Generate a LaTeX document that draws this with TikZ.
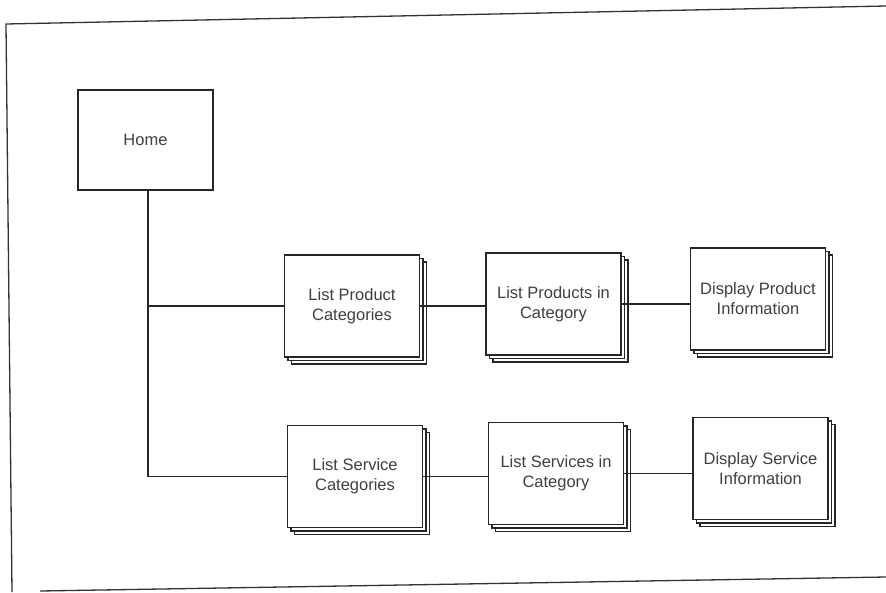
\documentclass[tikz,border=0pt]{standalone}
\usepackage{fontspec}
\setmainfont{Liberation Sans}
\usetikzlibrary{shadows}
\begin{document}
\begin{tikzpicture}[x=1pt,y=-1pt,
  frameline/.style={draw=black!80,line width=1.3pt},
  link/.style={draw=black!85,line width=1.1pt},
  screen/.style={draw=black!85,line width=1.1pt,fill=white,
    minimum width=135pt,minimum height=100pt,align=center,
    text=black!75,font=\fontsize{16.5}{20}\selectfont},
  stack/.style={screen,minimum height=102pt,
    double copy shadow={shadow xshift=3.5pt,shadow yshift=-3.5pt}}]
\useasboundingbox (0,0) rectangle (886,592);
% page frame (slightly skewed scan)
\draw[frameline] (886,6) -- (6,24) -- (12,592);
\draw[frameline] (40,591) -- (886,577);

% pages
\node[screen] (home) at (145.5,140) {Home};
\node[stack] (lpc)  at (352,306)   {List Product\\Categories};
\node[stack] (lpic) at (553.5,304) {List Products in\\Category};
\node[stack] (dpi)  at (758,299)   {Display Product\\Information};
\node[stack] (lsc)  at (355,476.5) {List Service\\Categories};
\node[stack] (lsic) at (556,473.5) {List Services in\\Category};
\node[stack] (dsi)  at (760.5,468.5) {Display Service\\Information};

% navigation links
\coordinate (trunk) at ([xshift=2.5pt]home.south);
\draw[link] (trunk) |- (lsc.west);
\draw[link] (lpc.west) -- (lpc.west -| trunk);
\draw[link] (lpc.east) -- (lpc.east -| lpic.west);
\draw[link] (lpic.east) -- (lpic.east -| dpi.west);
\draw[link] (lsc.east) -- (lsc.east -| lsic.west);
\draw[link] (lsic.east) -- (lsic.east -| dsi.west);
\end{tikzpicture}
\end{document}
